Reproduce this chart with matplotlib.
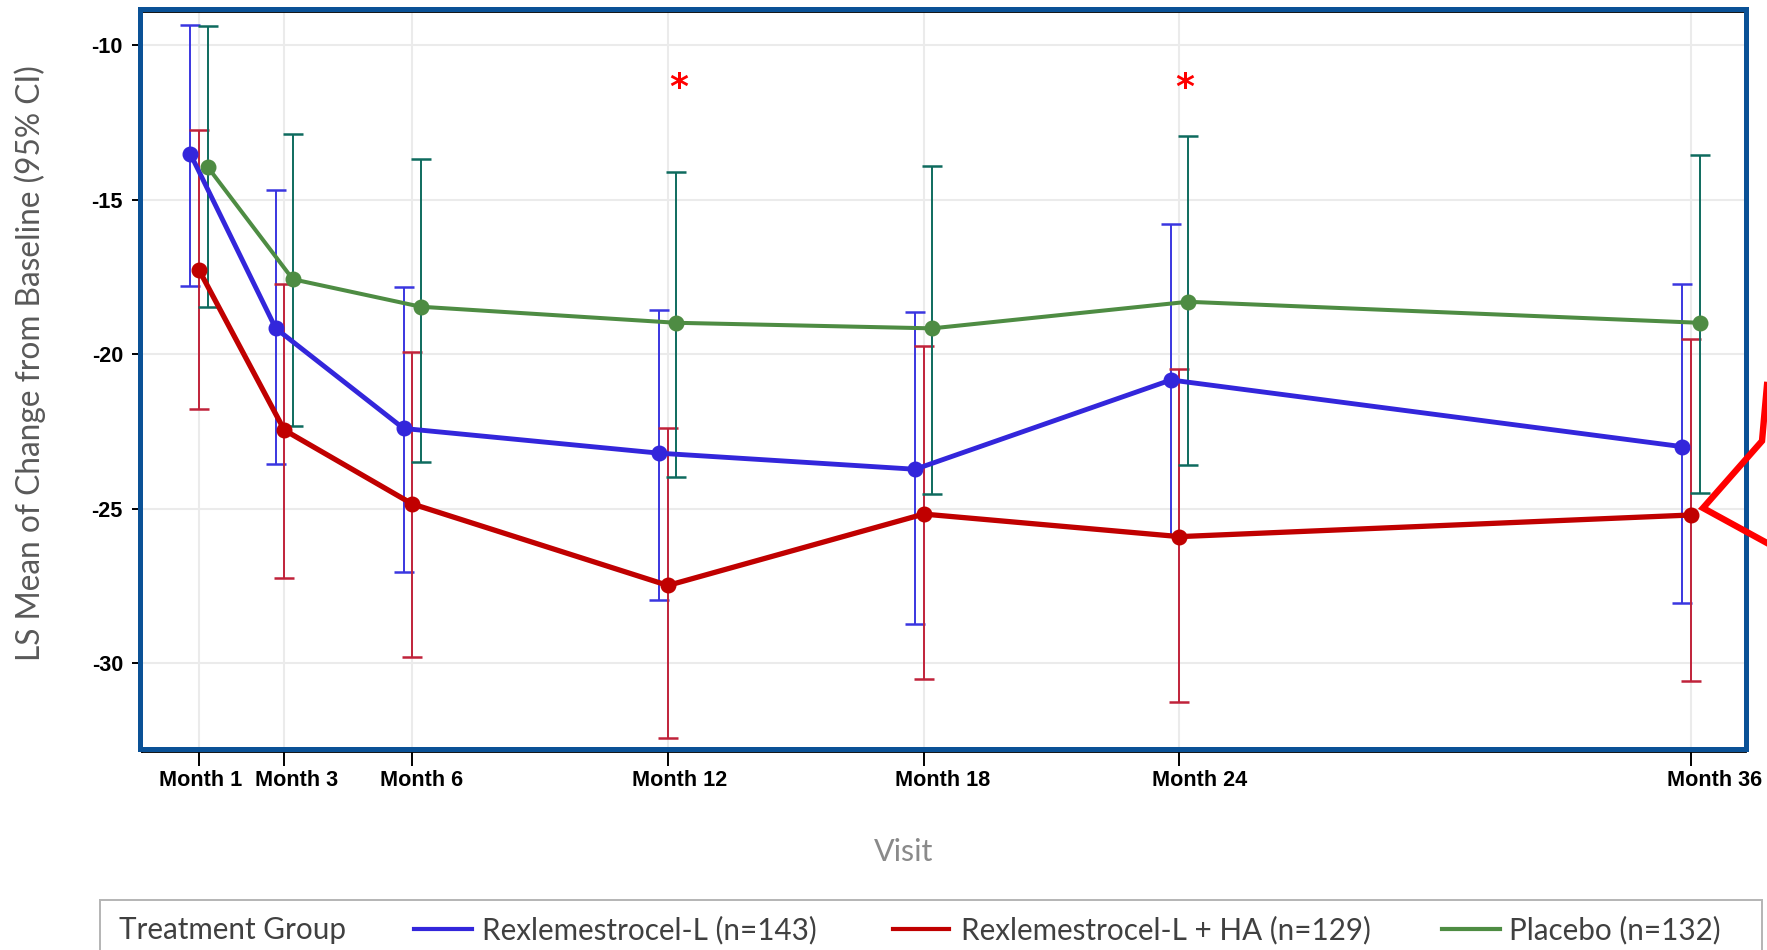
import matplotlib
matplotlib.use("Agg")
import matplotlib.pyplot as plt
import matplotlib.patches as mpatches
import matplotlib.transforms as mtransforms
from matplotlib.lines import Line2D

# ---- data ----
visits = ["Month 1", "Month 3", "Month 6", "Month 12", "Month 18", "Month 24", "Month 36"]
visit_months = [1, 3, 6, 12, 18, 24, 36]

groups = ["Rexlemestrocel-L (n=143)", "Rexlemestrocel-L + HA (n=129)", "Placebo (n=132)"]

rex_mean = [-13.53, -19.17, -22.41, -23.21, -23.73, -20.84, -23.00]
rex_lo = [-17.79, -23.57, -27.05, -27.96, -28.75, -25.86, -28.07]
rex_hi = [-9.35, -14.70, -17.82, -18.59, -18.65, -15.78, -17.74]

rexha_mean = [-17.28, -22.46, -24.85, -27.49, -25.18, -25.91, -25.21]
rexha_lo = [-21.79, -27.24, -29.82, -32.44, -30.53, -31.26, -30.58]
rexha_hi = [-12.75, -17.74, -19.93, -22.40, -19.74, -20.50, -19.52]

pbo_mean = [-13.94, -17.58, -18.47, -18.99, -19.17, -18.31, -18.99]
pbo_lo = [-18.47, -22.32, -23.48, -23.99, -24.53, -23.58, -24.49]
pbo_hi = [-9.38, -12.87, -13.70, -14.10, -13.91, -12.94, -13.57]

sig_months = [12, 24]
y_ticks = [-10, -15, -20, -25, -30]

# ---- styling ----
W, H, DPI = 1767, 950, 100
line_colors = ["#3326DB", "#C00000", "#4E8C43"]
err_colors = ["#3A36E0", "#C0223A", "#0E6B5E"]
line_widths = [3.5, 3.8, 2.9]
dodge = [-0.2, 0.0, 0.2]
sig_dx = [0.25, 0.12]
label_dx_px = [1.5, 12.5, 9.5, 12, 19, 20.6, 23.7]
frame_blue = "#0A5196"
label_font = ["Lato", "DejaVu Sans"]
tick_font = ["Liberation Sans", "DejaVu Sans"]

fig = plt.figure(figsize=(W / DPI, H / DPI), dpi=DPI)
fig.patch.set_facecolor("white")
ax = fig.add_axes([142 / W, (H - 752) / H, (1746 - 142) / W, (752 - 12) / H])

ax.set_xlim(-0.337, 37.29)
ax.set_ylim(-32.88, -8.932)

series = [
    (rex_mean, rex_lo, rex_hi),
    (rexha_mean, rexha_lo, rexha_hi),
    (pbo_mean, pbo_lo, pbo_hi),
]

for i, (mean, lo, hi) in enumerate(series):
    xs = [m + dodge[i] for m in visit_months]
    yerr = [[m - l for m, l in zip(mean, lo)], [h - m for m, h in zip(mean, hi)]]
    ax.errorbar(xs, mean, yerr=yerr, fmt="none", ecolor=err_colors[i],
                elinewidth=1.4, capsize=7.2, capthick=1.8, zorder=2)

for i, (mean, lo, hi) in enumerate(series):
    xs = [m + dodge[i] for m in visit_months]
    ax.plot(xs, mean, color=line_colors[i], lw=line_widths[i], marker="o",
            ms=10.5, mec=line_colors[i], mfc=line_colors[i], zorder=3 + i * 0.1,
            solid_joinstyle="round")

# significance markers
for m, dx in zip(sig_months, sig_dx):
    ax.text(m + dx, -11.7, "*", color="#FF0000", fontsize=26,
            fontweight="bold", ha="center", va="baseline", family="DejaVu Sans")

# axes, ticks, grid
ax.set_xticks(visit_months)
ax.set_xticklabels(visits)
ax.set_yticks(y_ticks)
ax.set_yticklabels([str(v) for v in y_ticks])
for lab in ax.get_xticklabels() + ax.get_yticklabels():
    lab.set_fontfamily(tick_font)
    lab.set_fontweight("bold")
    lab.set_fontsize(15.6)
    lab.set_color("black")
ax.tick_params(axis="x", length=10, width=1.4, pad=3, color="black")
ax.tick_params(axis="y", length=7.2, width=1.4, pad=6.5, color="black")

# month labels sit a little right of their ticks
for lab, dpx in zip(ax.get_xticklabels(), label_dx_px):
    lab.set_transform(lab.get_transform() + mtransforms.ScaledTranslation(dpx / DPI, 0, fig.dpi_scale_trans))

ax.grid(True, color="#EBEBEB", lw=1.5, zorder=0)
ax.set_axisbelow(True)
for side in ["left", "top", "bottom"]:
    ax.spines[side].set_color("black")
    ax.spines[side].set_linewidth(1.3)
ax.spines["right"].set_visible(False)

# blue frame around the plotting area
bb = ax.bbox
x0, y0, x1, y1 = bb.x0, bb.y0, bb.x1, bb.y1
frame = mpatches.Rectangle((x0 - 2.5, y0 + 3.5), (x1 - 0.5) - (x0 - 2.5), (y1 + 3.5) - (y0 + 3.5),
                           transform=None, fill=False, lw=3.6, ec=frame_blue, zorder=10)
fig.add_artist(frame)

# callout pointer to the last Rexlemestrocel-L + HA point
px, py = ax.transData.transform((visit_months[-1], rexha_mean[-1]))
pointer = Line2D([px + 76, px + 71, px + 12, px + 76], [py + 130, py + 74, py + 7, py - 28],
                 transform=None, color="#FF0000", lw=4.6, solid_joinstyle="miter", zorder=11)
fig.add_artist(pointer)

# axis titles
fig.text(30 / W, (H - 363) / H, "LS Mean of Change from Baseline (95% CI)", rotation=90,
         ha="center", va="center", fontsize=22.8, color="#595959", family=label_font)
fig.text(904 / W, (H - 852) / H, "Visit", ha="center", va="center", fontsize=22,
         color="#8A8A8A", family=label_font)

# legend panel
leg_box = mpatches.Rectangle((99.5, -20), 1762 - 99.5, 70, transform=None, fill=False,
                             lw=1.4, ec="#B4B4B4", zorder=5)
fig.add_artist(leg_box)
base_y = H - 939
mid_y = H - 929
fig.text(118.6 / W, base_y / H, "Treatment Group", ha="left", va="baseline", fontsize=21.3,
         color="#404040", family=label_font)
leg_line_x = [(414, 471.5), (892.6, 949), (1441.8, 1500)]
leg_text_x = [482, 960.6, 1509]
for i, name in enumerate(groups):
    fig.add_artist(Line2D(list(leg_line_x[i]), [mid_y, mid_y], transform=None,
                          color=line_colors[i], lw=3.0))
    fig.text(leg_text_x[i] / W, base_y / H, name, ha="left", va="baseline", fontsize=21.3,
             color="#404040", family=label_font)

fig.savefig("out.png", dpi=DPI)
